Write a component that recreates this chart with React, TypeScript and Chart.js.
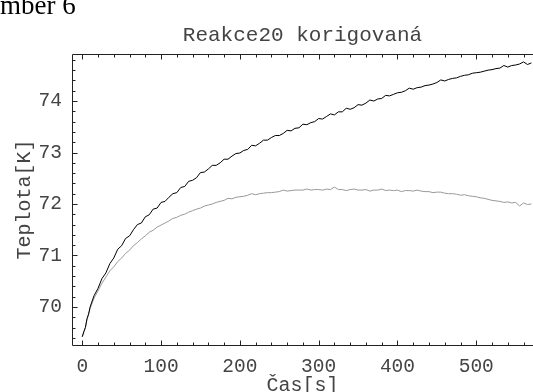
import React, { useEffect, useRef } from "react";
import { Chart, registerables } from "chart.js";

Chart.register(...registerables);

const times = [
  0, 2, 4, 6, 8, 10, 15, 20, 25, 30, 35, 40, 45, 50, 55, 60, 65, 70, 75, 80, 85, 90, 95, 100,
  105, 110, 115, 120, 125, 130, 135, 140, 145, 150, 155, 160, 165, 170, 175, 180, 185, 190, 195, 200,
  205, 210, 215, 220, 225, 230, 235, 240, 245, 250, 255, 260, 265, 270, 275, 280, 285, 290, 295, 300,
  305, 310, 315, 320, 325, 330, 335, 340, 345, 350, 355, 360, 365, 370, 375, 380, 385, 390, 395, 400,
  405, 410, 415, 420, 425, 430, 435, 440, 445, 450, 455, 460, 465, 470, 475, 480, 485, 490, 495, 500,
  505, 510, 515, 520, 525, 530, 535, 540, 545, 550, 555, 560, 565, 570,
];

const measuredTemps = [
  69.42, 69.52, 69.6, 69.77, 69.86, 70.0, 70.22, 70.36, 70.55, 70.66, 70.84, 70.95, 71.12, 71.19, 71.33, 71.38, 71.5, 71.6, 71.63, 71.75, 71.79, 71.9, 71.92, 72.03,
  72.05, 72.13, 72.2, 72.22, 72.32, 72.34, 72.44, 72.46, 72.51, 72.61, 72.62, 72.68, 72.75, 72.75, 72.8, 72.87, 72.87, 72.93, 72.98, 72.99,
  73.04, 73.06, 73.14, 73.13, 73.18, 73.24, 73.24, 73.29, 73.33, 73.33, 73.37, 73.43, 73.42, 73.47, 73.48, 73.55, 73.54, 73.58, 73.6, 73.66,
  73.65, 73.7, 73.75, 73.73, 73.79, 73.79, 73.86, 73.84, 73.87, 73.93, 73.92, 73.96, 74.02, 74.0, 74.04, 74.05, 74.11, 74.1, 74.13, 74.16,
  74.17, 74.2, 74.25, 74.23, 74.26, 74.27, 74.3, 74.31, 74.33, 74.36, 74.41, 74.39, 74.42, 74.44, 74.45, 74.48, 74.5, 74.51, 74.54, 74.55,
  74.56, 74.58, 74.6, 74.61, 74.63, 74.64, 74.69, 74.66, 74.69, 74.7, 74.72, 74.76, 74.71, 74.74,
];

const correctedTemps = [
  69.42, 69.5, 69.6, 69.75, 69.85, 69.97, 70.17, 70.31, 70.46, 70.58, 70.7, 70.78, 70.88, 70.95, 71.04, 71.1, 71.19, 71.25, 71.32, 71.38, 71.45, 71.49, 71.55, 71.59,
  71.63, 71.67, 71.72, 71.74, 71.78, 71.8, 71.84, 71.87, 71.9, 71.92, 71.96, 71.98, 72.0, 72.03, 72.05, 72.07, 72.11, 72.1, 72.13, 72.14,
  72.15, 72.17, 72.2, 72.18, 72.2, 72.21, 72.22, 72.22, 72.23, 72.24, 72.27, 72.25, 72.26, 72.27, 72.27, 72.27, 72.29, 72.27, 72.28, 72.28,
  72.27, 72.29, 72.28, 72.33, 72.28, 72.28, 72.26, 72.28, 72.29, 72.27, 72.27, 72.28, 72.25, 72.27, 72.27, 72.29, 72.26, 72.27, 72.26, 72.27,
  72.24, 72.26, 72.26, 72.25, 72.27, 72.25, 72.24, 72.24, 72.22, 72.23, 72.23, 72.21, 72.2, 72.2, 72.19, 72.17, 72.18, 72.16, 72.15, 72.14,
  72.12, 72.11, 72.09, 72.07, 72.06, 72.05, 72.03, 72.04, 72.02, 72.03, 71.96, 72.02, 71.99, 72.0,
];

const xMajorTicks = [0, 100, 200, 300, 400, 500];
const yMajorTicks = [70, 71, 72, 73, 74];

const MONO = "'Liberation Mono', 'DejaVu Sans Mono', monospace";
const TEXT = "#444";

const framePlugin = {
  id: "frame",
  afterDraw(chart: any) {
    const { ctx, chartArea } = chart;
    const xs = chart.scales.x;
    const ys = chart.scales.y;
    const L = Math.round(chartArea.left) + 0.5;
    const B = Math.round(chartArea.bottom) + 0.5;
    const T = Math.round(chartArea.top) + 0.5;
    const R = chartArea.right + 10;
    ctx.save();
    ctx.strokeStyle = "#222";
    ctx.lineWidth = 1;
    ctx.beginPath();
    ctx.moveTo(R, T);
    ctx.lineTo(L, T);
    ctx.lineTo(L, B);
    ctx.lineTo(R, B);
    for (let v = -20; v <= 580; v += 20) {
      const px = Math.round(xs.getPixelForValue(v)) + 0.5;
      if (px <= L + 1 || px > chartArea.right + 1) continue;
      const len = v % 100 === 0 ? 5 : 3;
      ctx.moveTo(px, B);
      ctx.lineTo(px, B - len);
      ctx.moveTo(px, T);
      ctx.lineTo(px, T + len);
    }
    for (let i = 347; i <= 375; i++) {
      const v = i / 5;
      const py = Math.round(ys.getPixelForValue(v)) + 0.5;
      if (py <= T + 1 || py >= B - 1) continue;
      const len = i % 5 === 0 ? 5 : 3;
      ctx.moveTo(L, py);
      ctx.lineTo(L + len, py);
    }
    ctx.stroke();
    ctx.restore();
  },
};

export default function App() {
  const ref = useRef<HTMLCanvasElement | null>(null);
  useEffect(() => {
    if (!ref.current) return;
    const chart = new Chart(ref.current, {
      type: "line",
      data: {
        datasets: [
          {
            label: "měřená",
            data: times.map((t, i) => ({ x: t, y: measuredTemps[i] })),
            borderColor: "#000",
            borderWidth: 1,
            pointRadius: 0,
            tension: 0,
          },
          {
            label: "korigovaná",
            data: times.map((t, i) => ({ x: t, y: correctedTemps[i] })),
            borderColor: "#999",
            borderWidth: 1,
            pointRadius: 0,
            tension: 0,
          },
        ],
      },
      options: {
        responsive: false,
        animation: false,
        layout: { padding: 0 },
        plugins: {
          legend: { display: false },
          tooltip: { enabled: false },
          title: {
            display: true,
            fullSize: false,
            text: "Reakce20 korigovaná",
            color: TEXT,
            font: { family: MONO, size: 21, weight: "normal", lineHeight: 1.2 },
            padding: { top: 23, bottom: 6 },
          },
        },
        scales: {
          x: {
            type: "linear",
            min: -13,
            max: 572,
            afterFit: (s: any) => {
              s.height = 65;
            },
            afterBuildTicks: (s: any) => {
              s.ticks = xMajorTicks.map((v) => ({ value: v }));
            },
            ticks: {
              includeBounds: false,
              color: TEXT,
              padding: 10,
              maxRotation: 0,
              autoSkip: false,
              font: { family: MONO, size: 19.5 },
            },
            grid: { display: false, drawTicks: false },
            border: { display: false },
            title: {
              display: true,
              text: "Čas[s]",
              color: TEXT,
              font: { family: MONO, size: 20, lineHeight: 1 },
              padding: 14,
            },
          },
          y: {
            type: "linear",
            min: 69.26,
            max: 74.91,
            afterFit: (s: any) => {
              s.width = 72;
            },
            afterBuildTicks: (s: any) => {
              s.ticks = yMajorTicks.map((v) => ({ value: v }));
            },
            ticks: {
              includeBounds: false,
              color: TEXT,
              padding: 10,
              autoSkip: false,
              font: { family: MONO, size: 19.5 },
            },
            grid: { display: false, drawTicks: false },
            border: { display: false },
            title: {
              display: true,
              text: "Teplota[K]",
              color: TEXT,
              font: { family: MONO, size: 20, lineHeight: 1.2 },
              padding: 13,
            },
          },
        },
      },
      plugins: [framePlugin],
    });
    return () => chart.destroy();
  }, []);

  return (
    <div
      style={{
        position: "fixed",
        left: 0,
        top: 0,
        width: 533,
        height: 392,
        overflow: "hidden",
        background: "#fff",
      }}
    >
      <div
        style={{
          position: "absolute",
          left: 0,
          top: -8,
          fontFamily: "'Liberation Serif', 'Times New Roman', serif",
          fontSize: 27,
          lineHeight: 1,
          color: "#000",
          whiteSpace: "nowrap",
        }}
      >
        mber 6
      </div>
      <canvas ref={ref} width={533} height={410} style={{ display: "block" }} />
    </div>
  );
}
